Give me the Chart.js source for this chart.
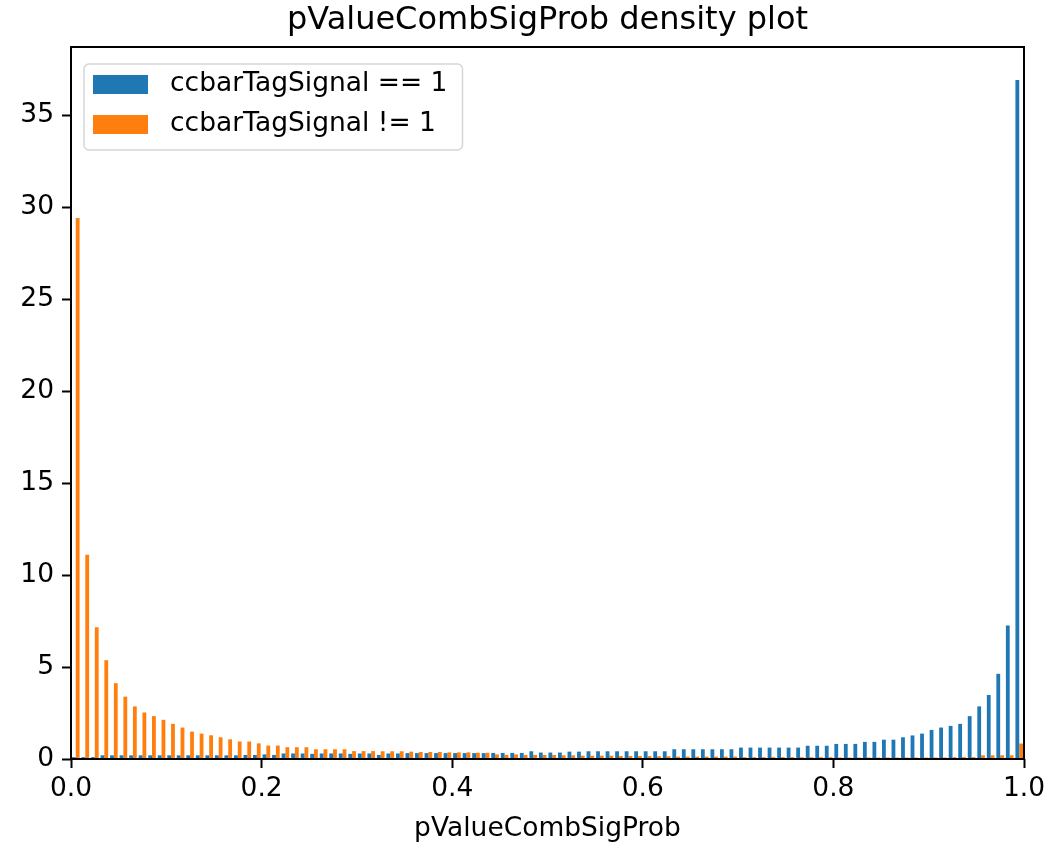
<!DOCTYPE html>
<html lang="en">
<head>
<meta charset="UTF-8">
<title>pValueCombSigProb density plot</title>
<script src="https://cdn.jsdelivr.net/npm/chart.js@4.4.1/dist/chart.umd.min.js"></script>
<style>
  html, body { margin: 0; padding: 0; background: #fff; }
</style>
</head>
<body>
<canvas id="myChart" width="1048" height="845"></canvas>

<script>
// 100 bins of width 0.01 on [0, 1]
var binLabels = Array.from({ length: 100 }, (_, i) => ((i + 0.5) / 100).toFixed(3));

// ccbarTagSignal == 1
var signalDensity = [
    0.1, 0.1, 0.1, 0.2, 0.2, 0.2, 0.2, 0.2, 0.2, 0.2,
    0.2, 0.2, 0.2, 0.2, 0.2, 0.2, 0.2, 0.2, 0.22, 0.22,
    0.25, 0.22, 0.3, 0.3, 0.3, 0.28, 0.3, 0.3, 0.3, 0.28,
    0.3, 0.3, 0.22, 0.3, 0.3, 0.32, 0.32, 0.32, 0.32, 0.32,
    0.32, 0.32, 0.32, 0.32, 0.33, 0.33, 0.33, 0.33, 0.42, 0.35,
    0.35, 0.35, 0.4, 0.4, 0.42, 0.42, 0.42, 0.42, 0.42, 0.42,
    0.42, 0.42, 0.42, 0.53, 0.53, 0.53, 0.53, 0.53, 0.53, 0.53,
    0.62, 0.62, 0.62, 0.62, 0.62, 0.62, 0.62, 0.72, 0.72, 0.72,
    0.82, 0.82, 0.82, 0.93, 0.93, 1.05, 1.05, 1.18, 1.28, 1.38,
    1.58, 1.71, 1.80, 1.91, 2.33, 2.86, 3.48, 4.63, 7.25, 36.9
];

// ccbarTagSignal != 1
var backgroundDensity = [
    29.4, 11.1, 7.16, 5.37, 4.12, 3.39, 2.86, 2.53, 2.33, 2.13,
    1.91, 1.71, 1.49, 1.38, 1.29, 1.18, 1.07, 0.95, 0.95, 0.85,
    0.73, 0.73, 0.64, 0.64, 0.64, 0.53, 0.53, 0.53, 0.53, 0.43,
    0.43, 0.43, 0.42, 0.42, 0.42, 0.4, 0.38, 0.38, 0.38, 0.36,
    0.36, 0.36, 0.34, 0.34, 0.25, 0.22, 0.25, 0.22, 0.22, 0.22,
    0.22, 0.2, 0.2, 0.18, 0.18, 0.18, 0.18, 0.16, 0.16, 0.16,
    0.16, 0.15, 0.15, 0.13, 0.13, 0.13, 0.13, 0.13, 0.13, 0.13,
    0.1, 0.1, 0.1, 0.1, 0.1, 0.1, 0.1, 0.1, 0.1, 0.1,
    0.08, 0.08, 0.08, 0.08, 0.08, 0.08, 0.08, 0.08, 0.08, 0.08,
    0.08, 0.08, 0.1, 0.1, 0.1, 0.2, 0.2, 0.2, 0.2, 0.84
];

var xTicks = [0, 0.2, 0.4, 0.6, 0.8, 1.0];
var yTicks = [0, 5, 10, 15, 20, 25, 30, 35];
var chartTitle = 'pValueCombSigProb density plot';

Chart.defaults.font.family = '"DejaVu Sans", sans-serif';
Chart.defaults.color = '#000';

// black box around the plot area + title centred over it (like matplotlib)
var frame = {
    id: 'frame',
    afterDraw(chart) {
        var a = chart.chartArea, ctx = chart.ctx;
        ctx.save();
        ctx.strokeStyle = '#000';
        ctx.lineWidth = 2;
        ctx.strokeRect(a.left, a.top, a.right - a.left, a.bottom - a.top);
        ctx.font = '32px "DejaVu Sans"';
        ctx.fillStyle = '#000';
        ctx.textAlign = 'center';
        ctx.textBaseline = 'middle';
        ctx.fillText(chartTitle, (a.left + a.right) / 2, 21);
        ctx.restore();
    }
};

// matplotlib style legend in the upper left corner
var legendBox = {
    id: 'legendBox',
    afterDraw(chart) {
        var ctx = chart.ctx, a = chart.chartArea;
        var x = a.left + 13, y = a.top + 17;
        ctx.save();
        ctx.font = '26.5px "DejaVu Sans"';
        var w = 0;
        chart.data.datasets.forEach(ds => { w = Math.max(w, ctx.measureText(ds.label).width); });
        ctx.beginPath();
        ctx.roundRect(x, y, 86 + w + 15, 86, 5);
        ctx.fillStyle = 'rgba(255,255,255,0.8)';
        ctx.fill();
        ctx.strokeStyle = '#d6d6d6';
        ctx.lineWidth = 1.5;
        ctx.stroke();
        chart.data.datasets.forEach((ds, i) => {
            var cy = y + 20 + i * 40;
            ctx.fillStyle = ds.backgroundColor;
            ctx.fillRect(x + 9, cy - 9, 55, 19);
            ctx.fillStyle = '#000';
            ctx.textBaseline = 'middle';
            ctx.fillText(ds.label, x + 86, cy);
        });
        ctx.restore();
    }
};

var ctx = document.getElementById('myChart').getContext('2d');
var myChart = new Chart(ctx, {
    type: 'bar',
    data: {
        labels: binLabels,
        datasets: [
            { label: 'ccbarTagSignal == 1', data: signalDensity, backgroundColor: '#1f77b4' },
            { label: 'ccbarTagSignal != 1', data: backgroundDensity, backgroundColor: '#ff7f0e' }
        ]
    },
    options: {
        responsive: false,
        animation: false,
        devicePixelRatio: 1,
        categoryPercentage: 0.8,
        barPercentage: 1.0,
        layout: { padding: { left: 0, right: 24, top: 47, bottom: 0 } },
        plugins: {
            legend: { display: false },
            tooltip: { enabled: false },
            title: { display: false }
        },
        scales: {
            x: { type: 'category', display: false, offset: true },
            x2: {
                type: 'linear',
                position: 'bottom',
                min: 0,
                max: 1,
                offset: false,
                afterBuildTicks: s => { s.ticks = xTicks.map(v => ({ value: v })); },
                afterFit: s => { s.height = 86; s.paddingLeft = 0; s.paddingRight = 0; },
                border: { display: false },
                grid: { offset: false, drawOnChartArea: false, tickLength: 9, tickColor: '#000', tickWidth: 2 },
                ticks: { font: { size: 26.5 }, padding: 5, maxRotation: 0, callback: v => v.toFixed(1) },
                title: { display: true, text: 'pValueCombSigProb', font: { size: 26.5 }, padding: { top: 0, bottom: 0 } }
            },
            y: {
                min: 0,
                max: 38.7,
                afterBuildTicks: s => { s.ticks = yTicks.map(v => ({ value: v })); },
                afterFit: s => { s.width = 71; s.paddingTop = 0; s.paddingBottom = 0; },
                border: { display: false },
                grid: { drawOnChartArea: false, tickLength: 9, tickColor: '#000', tickWidth: 2 },
                ticks: { font: { size: 26.5 }, padding: 8 }
            }
        }
    },
    plugins: [frame, legendBox]
});
</script>
</body>
</html>
